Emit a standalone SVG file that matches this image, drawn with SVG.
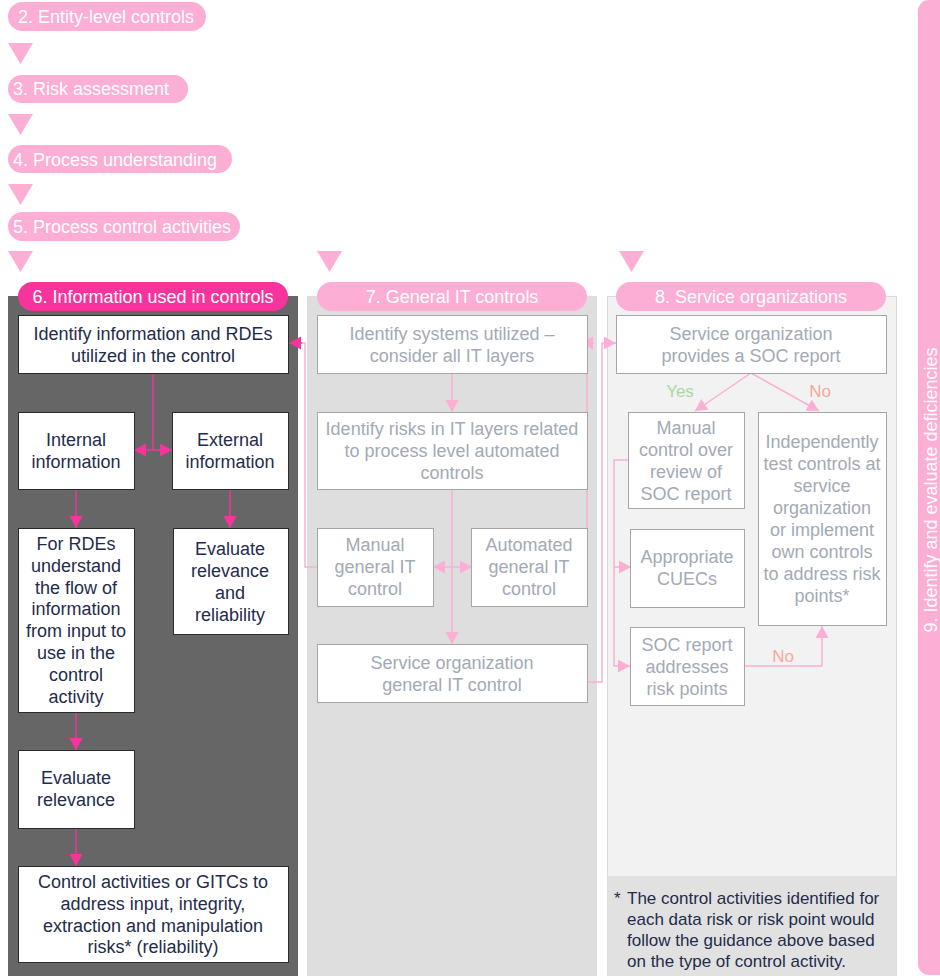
<svg xmlns="http://www.w3.org/2000/svg" width="940" height="976" viewBox="0 0 940 976">
<style>
text{font-family:"Liberation Sans",Arial,sans-serif}
.pill{fill:#FCAED4}
.hot{fill:#F7349B}
.pt{fill:#fff;font-size:18px}
.ptc{fill:#fff;font-size:18px;text-anchor:middle}
.bd{fill:#fff;stroke:#2B2B2B;stroke-width:1}
.bg{fill:#fff;stroke:#A6A6A6;stroke-width:1}
.td{fill:#1F2C4C;font-size:18px;text-anchor:middle}
.tg{fill:#A3AAB5;font-size:18px;text-anchor:middle}
.tri{fill:#FCAED4}
.ch{fill:none;stroke:#F7349B;stroke-width:1.5}
.cl{fill:none;stroke:#FCAED4;stroke-width:1.5}
.fn{fill:#1F2C4C;font-size:17px}
</style>
<defs>
<marker id="ah" markerUnits="userSpaceOnUse" markerWidth="14" markerHeight="14" refX="12" refY="6.5" orient="auto"><path d="M0,0 L12,6.5 L0,13 Z" fill="#F7349B"/></marker>
<marker id="al" markerUnits="userSpaceOnUse" markerWidth="14" markerHeight="14" refX="12" refY="6.5" orient="auto"><path d="M0,0 L12,6.5 L0,13 Z" fill="#FCAED4"/></marker>
</defs>

<!-- panels -->
<g id="panels">
<rect x="8" y="296" width="290" height="680" fill="#666666"/>
<rect x="307" y="296" width="290" height="680" fill="#DEDEDE"/>
<rect x="607.5" y="296.5" width="289" height="680" fill="#F2F2F2" stroke="#DADADA"/>
<rect x="607.5" y="876" width="289" height="100" fill="#E1E1E1"/>
<rect x="918" y="0" width="32" height="975" rx="11" class="pill"/>
<text transform="translate(937,490) rotate(-90)" class="ptc">9. Identify and evaluate deficiencies</text>
</g>

<!-- top steps -->
<g id="step2"><rect x="8" y="2" width="198" height="29" rx="14.5" class="pill"/><text x="18" y="23" class="pt">2. Entity-level controls</text></g>
<polygon class="tri" points="8,43 33,43 20.5,64"/>
<g id="step3"><rect x="8" y="75" width="180" height="28" rx="14" class="pill"/><text x="13" y="95" class="pt">3. Risk assessment</text></g>
<polygon class="tri" points="8,114 33,114 20.5,135"/>
<g id="step4"><rect x="8" y="145" width="224" height="28" rx="14" class="pill"/><text x="13" y="165.5" class="pt">4. Process understanding</text></g>
<polygon class="tri" points="8,184 33,184 20.5,205"/>
<g id="step5"><rect x="8" y="212" width="232" height="29" rx="14.5" class="pill"/><text x="13" y="233" class="pt">5. Process control activities</text></g>
<polygon class="tri" points="8,251 33,251 20.5,272"/>
<polygon class="tri" points="317,251 342,251 329.5,272"/>
<polygon class="tri" points="619,251 644,251 631.5,272"/>

<!-- section headers -->
<g id="h6"><rect x="18" y="282" width="270" height="29" rx="14.5" class="hot"/><text x="153" y="302.5" class="ptc">6. Information used in controls</text></g>
<g id="h7"><rect x="317" y="282" width="270" height="29" rx="14.5" class="pill"/><text x="452" y="302.5" class="ptc">7. General IT controls</text></g>
<g id="h8"><rect x="616" y="282" width="270" height="29" rx="14.5" class="pill"/><text x="751" y="302.5" class="ptc">8. Service organizations</text></g>

<!-- connectors -->
<g id="connectors">
<path class="ch" d="M153,373 V450" />
<path class="ch" d="M153,450 H134" marker-end="url(#ah)"/>
<path class="ch" d="M153,450 H172" marker-end="url(#ah)"/>
<path class="ch" d="M76,489 V528" marker-end="url(#ah)"/>
<path class="ch" d="M230,489 V528" marker-end="url(#ah)"/>
<path class="ch" d="M76,712 V750" marker-end="url(#ah)"/>
<path class="ch" d="M76,828 V866" marker-end="url(#ah)"/>

<path class="cl" d="M317,567 H305 V343 H300"/>
<path class="ch" d="M302,343 H289" marker-end="url(#ah)"/>
<path class="cl" d="M452,373 V412" marker-end="url(#al)"/>
<path class="cl" d="M452,489 V644" marker-end="url(#al)"/>
<path class="cl" d="M452,567 H433" marker-end="url(#al)"/>
<path class="cl" d="M452,567 H472" marker-end="url(#al)"/>
<path class="cl" d="M587,567 V343 H593"/>
<path class="cl" d="M594,343 H581" marker-end="url(#al)"/>
<path class="cl" d="M587,682 H602 V343 H616" marker-end="url(#al)"/>

<path class="cl" d="M751,373 L695,411" marker-end="url(#al)"/>
<path class="cl" d="M751,373 L819,411" marker-end="url(#al)"/>
<path class="cl" d="M628,460 H614 V666 H630" marker-end="url(#al)"/>
<path class="cl" d="M614,567 H631" marker-end="url(#al)"/>
<path class="cl" d="M744,666 H822 V626" marker-end="url(#al)"/>
<text x="680" y="397" fill="#A6D9A0" font-size="17" text-anchor="middle">Yes</text>
<text x="820" y="397" fill="#F8A79E" font-size="17" text-anchor="middle">No</text>
<text x="783" y="662" fill="#F8A79E" font-size="17" text-anchor="middle">No</text>
</g>

<!-- section 6 nodes -->
<g id="n6a"><rect x="18.5" y="315.5" width="270" height="58" class="bd"/><text x="153" y="339.5" class="td">Identify information and RDEs</text><text x="153" y="361.5" class="td">utilized in the control</text></g>
<g id="n6b"><rect x="18.5" y="412.5" width="116" height="77" class="bd"/><text x="76" y="445.5" class="td">Internal</text><text x="76" y="467.5" class="td">information</text></g>
<g id="n6c"><rect x="172.5" y="412.5" width="116" height="77" class="bd"/><text x="230" y="445.5" class="td">External</text><text x="230" y="467.5" class="td">information</text></g>
<g id="n6d"><rect x="18.5" y="528.5" width="116" height="184" class="bd"/>
<text class="td"><tspan x="76" y="549.5">For RDEs</tspan><tspan x="76" y="571.5">understand</tspan><tspan x="76" y="593.5">the flow of</tspan><tspan x="76" y="614.5">information</tspan><tspan x="76" y="636.5">from input to</tspan><tspan x="76" y="658.5">use in the</tspan><tspan x="76" y="680.5">control</tspan><tspan x="76" y="702.5">activity</tspan></text></g>
<g id="n6e"><rect x="173.5" y="528.5" width="115" height="106" class="bd"/>
<text class="td"><tspan x="230" y="554.5">Evaluate</tspan><tspan x="230" y="576.5">relevance</tspan><tspan x="230" y="598.5">and</tspan><tspan x="230" y="620.5">reliability</tspan></text></g>
<g id="n6f"><rect x="18.5" y="750.5" width="116" height="78" class="bd"/><text x="76" y="783.5" class="td">Evaluate</text><text x="76" y="805.5" class="td">relevance</text></g>
<g id="n6g"><rect x="18.5" y="866.5" width="270" height="96" class="bd"/>
<text class="td"><tspan x="153" y="887.5">Control activities or GITCs to</tspan><tspan x="153" y="909.5">address input, integrity,</tspan><tspan x="153" y="931.5">extraction and manipulation</tspan><tspan x="153" y="952.5">risks* (reliability)</tspan></text></g>

<!-- section 7 nodes -->
<g id="n7a"><rect x="317.5" y="315.5" width="270" height="58" class="bg"/><text x="452" y="339.5" class="tg">Identify systems utilized –</text><text x="452" y="361.5" class="tg">consider all IT layers</text></g>
<g id="n7b"><rect x="317.5" y="412.5" width="270" height="77" class="bg"/><text class="tg"><tspan x="452" y="434.5">Identify risks in IT layers related</tspan><tspan x="452" y="456.5">to process level automated</tspan><tspan x="452" y="478.5">controls</tspan></text></g>
<g id="n7c"><rect x="317.5" y="528.5" width="116" height="78" class="bg"/><text class="tg"><tspan x="375" y="550.5">Manual</tspan><tspan x="375" y="572.5">general IT</tspan><tspan x="375" y="594.5">control</tspan></text></g>
<g id="n7d"><rect x="471.5" y="528.5" width="116" height="78" class="bg"/><text class="tg"><tspan x="529" y="550.5">Automated</tspan><tspan x="529" y="572.5">general IT</tspan><tspan x="529" y="594.5">control</tspan></text></g>
<g id="n7e"><rect x="317.5" y="644.5" width="270" height="58" class="bg"/><text x="452" y="668.5" class="tg">Service organization</text><text x="452" y="690.5" class="tg">general IT control</text></g>

<!-- section 8 nodes -->
<g id="n8a"><rect x="616.5" y="315.5" width="270" height="58" class="bg"/><text x="751" y="339.5" class="tg">Service organization</text><text x="751" y="361.5" class="tg">provides a SOC report</text></g>
<g id="n8b"><rect x="628.5" y="412.5" width="116" height="96" class="bg"/><text class="tg"><tspan x="686" y="433.5">Manual</tspan><tspan x="686" y="455.5">control over</tspan><tspan x="686" y="477.5">review of</tspan><tspan x="686" y="499.5">SOC report</tspan></text></g>
<g id="n8c"><rect x="758.5" y="412.5" width="128" height="213" class="bg"/><text class="tg"><tspan x="822" y="447.5">Independently</tspan><tspan x="822" y="469.5">test controls at</tspan><tspan x="822" y="491.5">service</tspan><tspan x="822" y="513.5">organization</tspan><tspan x="822" y="535.5">or implement</tspan><tspan x="822" y="557.5">own controls</tspan><tspan x="822" y="579.5">to address risk</tspan><tspan x="822" y="601.5">points*</tspan></text></g>
<g id="n8d"><rect x="630.5" y="529.5" width="114" height="78" class="bg"/><text x="687" y="562.5" class="tg">Appropriate</text><text x="687" y="584.5" class="tg">CUECs</text></g>
<g id="n8e"><rect x="630.5" y="627.5" width="114" height="78" class="bg"/><text class="tg"><tspan x="687" y="650.5">SOC report</tspan><tspan x="687" y="672.5">addresses</tspan><tspan x="687" y="694.5">risk points</tspan></text></g>

<!-- footnote -->
<g id="footnote">
<text x="614" y="904" class="fn">*</text>
<text class="fn"><tspan x="627" y="904">The control activities identified for</tspan><tspan x="627" y="925">each data risk or risk point would</tspan><tspan x="627" y="946">follow the guidance above based</tspan><tspan x="627" y="967">on the type of control activity.</tspan></text>
</g>
</svg>
